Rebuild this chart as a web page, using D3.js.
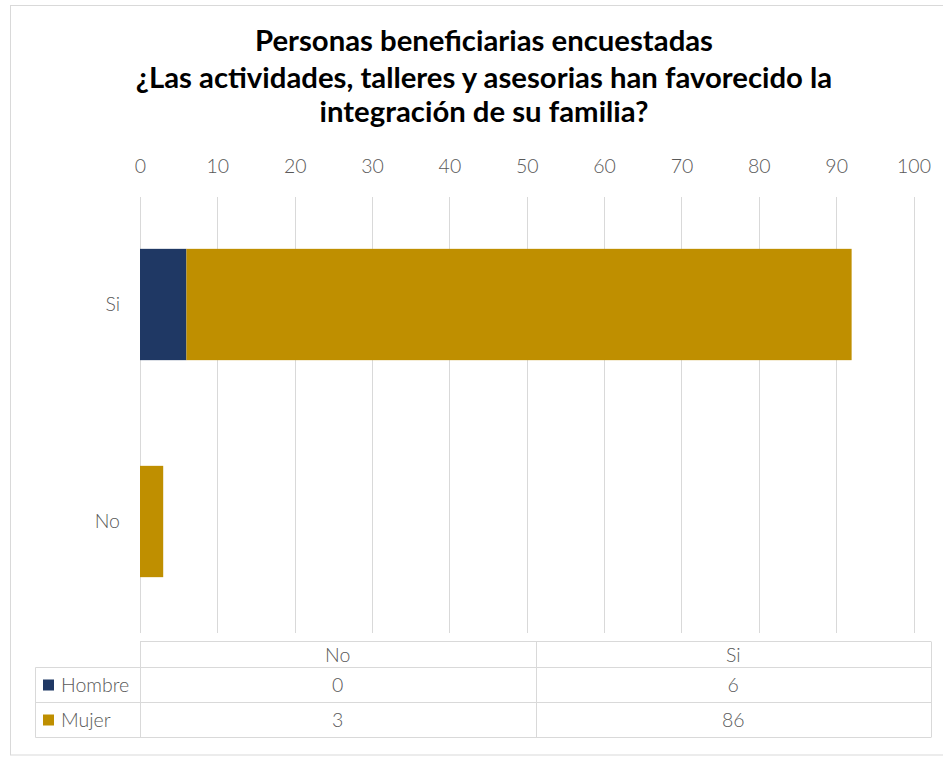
<!DOCTYPE html>
<html>
<head>
<meta charset="utf-8">
<script src="https://cdn.jsdelivr.net/npm/d3@7"></script>
<style>
  html, body { margin: 0; padding: 0; background: #ffffff; }
  svg { display: block; }
</style>
</head>
<body>
<svg id="chart" width="943" height="757"></svg>
<script>
// ---- data ----
const titleLines = [
  "Personas beneficiarias encuestadas",
  "¿Las actividades, talleres y asesorias han favorecido la",
  "integración de su familia?"
];
const categories = ["No", "Si"];          // table column order
const plotOrder = ["Si", "No"];           // top to bottom on chart
const seriesNames = ["Hombre", "Mujer"];
const hombre = [0, 6];
const mujer = [3, 86];
const xTicks = [0, 10, 20, 30, 40, 50, 60, 70, 80, 90, 100];
const colors = ["#1F3864", "#BF8F00"];

const seriesValues = [hombre, mujer];

// ---- layout ----
const svg = d3.select("#chart");
const font = "Lato, 'Open Sans', 'DejaVu Sans', sans-serif";
const gray = "#595959";
const gridCol = "#d9d9d9";
const lblSize = 19.5;
const lblWeight = 300;

// chart border
svg.append("rect")
  .attr("x", 10.5).attr("y", 5.5)
  .attr("width", 945).attr("height", 749.5)
  .attr("fill", "none").attr("stroke", "#d9d9d9").attr("stroke-width", 1);

// title
const titleCx = 484;
const titleBaselines = [51, 88, 122];
const tg = svg.append("g");
titleLines.forEach((t, i) => {
  tg.append("text")
    .attr("x", titleCx).attr("y", titleBaselines[i])
    .attr("text-anchor", "middle")
    .attr("font-family", font)
    .attr("font-weight", "bold")
    .attr("font-size", 24)
    .attr("fill", "#000")
    .text(t);
});
// fit title font size so that line 2 is ~697px wide
const l2 = tg.selectAll("text").nodes()[1];
const w2 = l2.getComputedTextLength();
const fs = 24 * 697 / w2;
tg.selectAll("text").attr("font-size", fs);

// scales
const x = d3.scaleLinear().domain([0, 100]).range([140, 913.5]);
const y = d3.scaleBand().domain(plotOrder).range([196, 630])
  .paddingInner(0.487).paddingOuter(0.2435);

// gridlines
svg.append("g").selectAll("line").data(xTicks).join("line")
  .attr("x1", d => Math.round(x(d)) + 0.5).attr("x2", d => Math.round(x(d)) + 0.5)
  .attr("y1", 197).attr("y2", 633)
  .attr("stroke", gridCol).attr("stroke-width", 1);

// top axis labels
const axis = d3.axisTop(x).tickValues(xTicks).tickSize(0).tickPadding(0);
const ag = svg.append("g").attr("transform", "translate(0,173)").call(axis);
ag.select(".domain").remove();
ag.selectAll("text")
  .attr("font-family", font).attr("font-size", lblSize).attr("font-weight", lblWeight)
  .attr("fill", gray).attr("dy", 0);

// stacked bars
const stackData = plotOrder.map(c => {
  const idx = categories.indexOf(c);
  const o = { cat: c };
  seriesNames.forEach((s, j) => o[s] = seriesValues[j][idx]);
  return o;
});
const stack = d3.stack().keys(seriesNames)(stackData);
svg.append("g").selectAll("g").data(stack).join("g")
  .attr("fill", (d, i) => colors[i])
  .selectAll("rect").data(d => d).join("rect")
  .attr("x", d => x(d[0]))
  .attr("width", d => x(d[1]) - x(d[0]))
  .attr("y", d => y(d.data.cat))
  .attr("height", y.bandwidth());

// category labels
const yAxis = d3.axisLeft(y).tickSize(0).tickPadding(20);
const yg = svg.append("g").attr("transform", "translate(140,0)").call(yAxis);
yg.select(".domain").remove();
yg.selectAll("text")
  .attr("font-family", font).attr("font-size", lblSize).attr("font-weight", lblWeight)
  .attr("fill", gray);

// data table
const tLeft = 140, tRight = 931, tLabelLeft = 35.5;
const rowY = [641.5, 667.5, 702.5, 737.5];
const colX = d3.scaleBand().domain(categories).range([tLeft, tRight]);
const tb = svg.append("g").attr("stroke", gridCol).attr("stroke-width", 1).attr("fill", "none");
// horizontal lines
tb.append("line").attr("x1", tLeft).attr("x2", tRight).attr("y1", rowY[0]).attr("y2", rowY[0]);
[1, 2, 3].forEach(i => {
  tb.append("line").attr("x1", tLabelLeft).attr("x2", tRight).attr("y1", rowY[i]).attr("y2", rowY[i]);
});
// vertical lines
tb.append("line").attr("x1", tLabelLeft).attr("x2", tLabelLeft).attr("y1", rowY[1]).attr("y2", rowY[3]);
[tLeft, colX("Si"), tRight].forEach(xx => {
  const xr = Math.round(xx) + 0.5;
  tb.append("line").attr("x1", xr).attr("x2", xr).attr("y1", rowY[0]).attr("y2", rowY[3]);
});

// header text
svg.append("g").selectAll("text").data(categories).join("text")
  .attr("x", d => colX(d) + colX.bandwidth() / 2)
  .attr("y", (rowY[0] + rowY[1]) / 2 + 7)
  .attr("text-anchor", "middle")
  .attr("font-family", font).attr("font-size", lblSize).attr("font-weight", lblWeight)
  .attr("fill", gray)
  .text(d => d);

// rows
seriesNames.forEach((s, j) => {
  const cy = (rowY[j + 1] + rowY[j + 2]) / 2;
  svg.append("rect")
    .attr("x", 43).attr("y", cy - 5.5).attr("width", 11).attr("height", 11)
    .attr("fill", colors[j]);
  svg.append("text")
    .attr("x", 61).attr("y", cy + 7)
    .attr("font-family", font).attr("font-size", lblSize).attr("font-weight", lblWeight)
    .attr("fill", gray)
    .text(s);
  svg.append("g").selectAll("text").data(categories).join("text")
    .attr("x", d => colX(d) + colX.bandwidth() / 2)
    .attr("y", cy + 7)
    .attr("text-anchor", "middle")
    .attr("font-family", font).attr("font-size", lblSize).attr("font-weight", lblWeight)
    .attr("fill", gray)
    .text((d, i) => seriesValues[j][i]);
});
</script>
</body>
</html>
